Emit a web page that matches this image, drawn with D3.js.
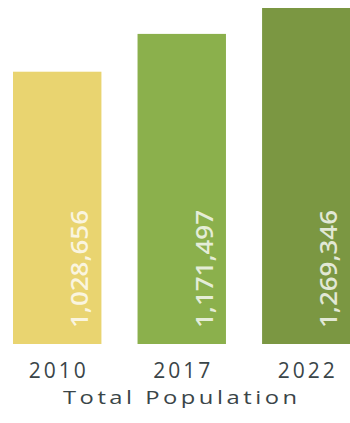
<!DOCTYPE html>
<html>
<head>
<meta charset="utf-8">
<script src="https://cdn.jsdelivr.net/npm/d3@7"></script>
<style>
  html, body { margin: 0; padding: 0; background: #ffffff; }
  svg { display: block; }
</style>
</head>
<body>
<svg id="chart" width="350" height="423"></svg>
<script>
// Total population by census year
const years = ["2010", "2017", "2022"];
const population = [1028656, 1171497, 1269346];
const barColors = ["#e9d470", "#8bb04c", "#7b9742"];
const axisTitle = "Total Population";

const svg = d3.select("#chart");
const fmt = d3.format(",");

const x = d3.scaleBand()
  .domain(years)
  .range([13, 350.5])
  .paddingInner(0.29)
  .paddingOuter(0);

const y = d3.scaleLinear()
  .domain([0, d3.max(population)])
  .range([344, 8]);

const data = years.map((yr, i) => ({ year: yr, value: population[i], color: barColors[i] }));

// bars
svg.append("g")
  .selectAll("rect")
  .data(data)
  .join("rect")
  .attr("x", d => x(d.year))
  .attr("y", d => y(d.value))
  .attr("width", x.bandwidth())
  .attr("height", d => y(0) - y(d.value))
  .attr("fill", d => d.color);

// value labels, rotated inside each bar
svg.append("g")
  .selectAll("text")
  .data(data)
  .join("text")
  .attr("transform", d => `translate(${x(d.year) + x.bandwidth() / 2 + 31},328) rotate(-90)`)
  .attr("font-family", "'Open Sans', sans-serif")
  .attr("font-size", 24)
  .attr("font-weight", 600)
  .attr("fill", "#ffffff")
  .attr("fill-opacity", 0.78)
  .attr("textLength", 118)
  .attr("lengthAdjust", "spacingAndGlyphs")
  .text(d => fmt(d.value));

// category axis (labels only)
const xAxis = d3.axisBottom(x).tickSize(0).tickPadding(0);
const axisG = svg.append("g")
  .attr("transform", "translate(0,362)")
  .call(xAxis);
axisG.select(".domain").remove();
axisG.selectAll("text")
  .attr("font-family", "'Open Sans', sans-serif")
  .attr("font-size", 21)
  .attr("fill", "#3a4548")
  .attr("dy", 0)
  .attr("y", 16)
  .attr("textLength", 57)
  .attr("lengthAdjust", "spacing");

// axis title, slightly widened
const titleScale = 1.25;
svg.append("text")
  .attr("transform", `translate(180,404) scale(${titleScale},1)`)
  .attr("text-anchor", "middle")
  .attr("font-family", "'Open Sans', sans-serif")
  .attr("font-size", 19)
  .attr("font-weight", 500)
  .attr("fill", "#3a4548")
  .attr("textLength", 234 / titleScale)
  .attr("lengthAdjust", "spacing")
  .text(axisTitle);
</script>
</body>
</html>
